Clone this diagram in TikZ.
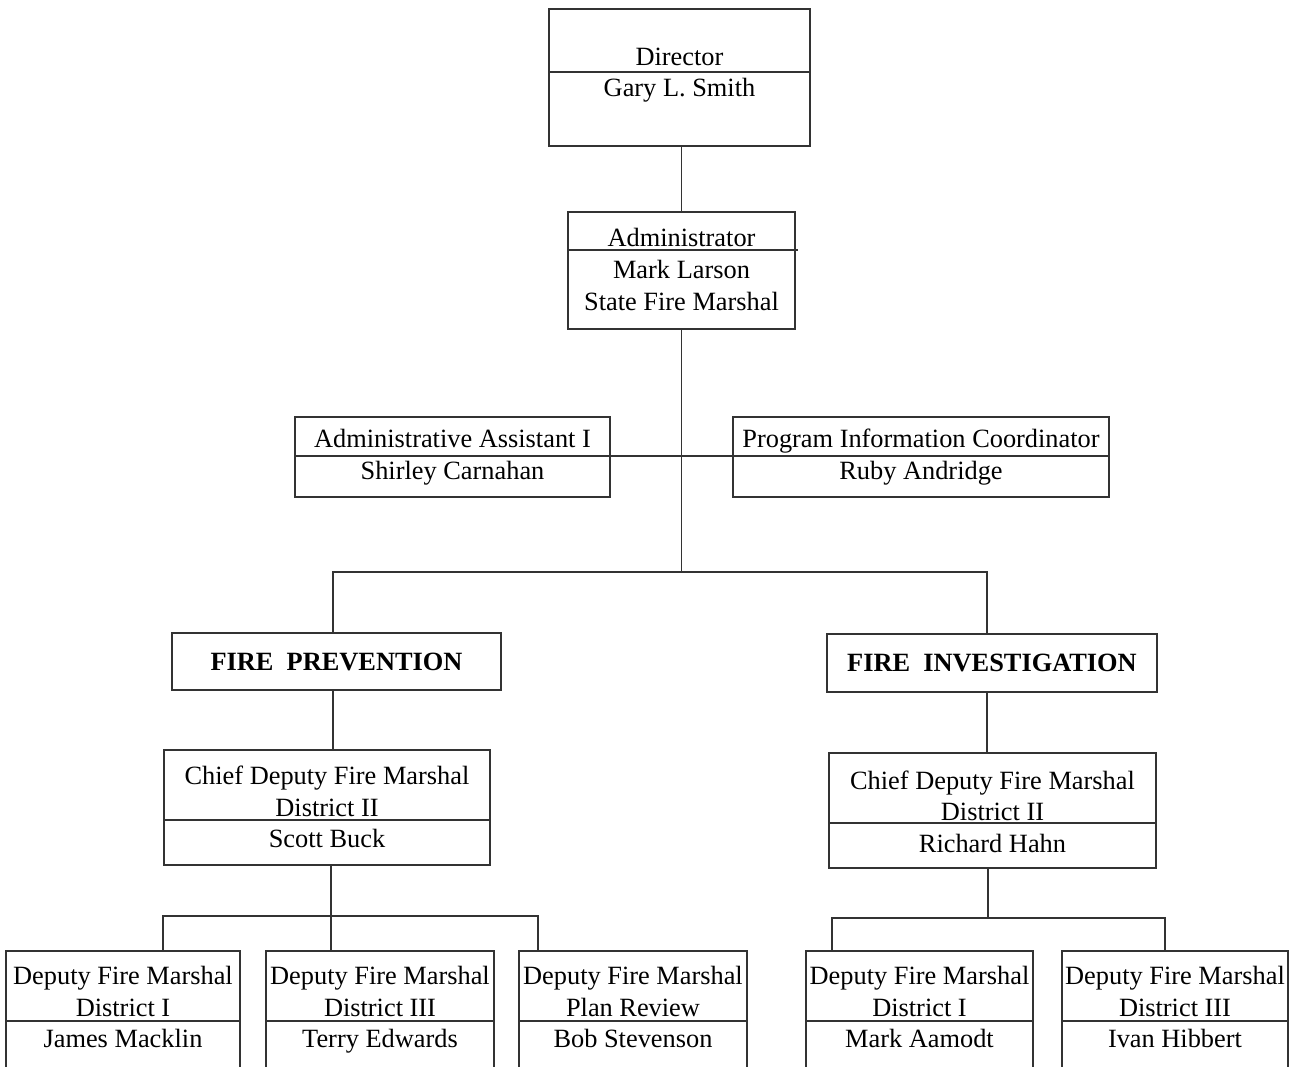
\documentclass[tikz,border=0pt]{standalone}
\usepackage{fontspec}
\setmainfont{Liberation Serif}
\usepackage{tikz}
\usetikzlibrary{positioning}

\begin{document}
\begin{tikzpicture}[
  box/.style={draw=black!80,line width=0.6pt,inner sep=0pt},
  txt/.style={align=center,inner sep=0pt,font=\fontsize{15}{18}\selectfont},
  head/.style={draw=black!80,line width=0.6pt,inner sep=0pt,font=\fontsize{15}{18}\selectfont\bfseries},
  rule/.style={draw=black!80,line width=0.6pt}]
  \useasboundingbox (0,0) rectangle (25.92,-21.32);
  \clip (0,0) rectangle (25.92,-21.32);
  % top of the chart
  \node[box,minimum width=5.22cm,minimum height=2.74cm] (dir) at (13.59,-1.55) {};
  \node[txt] (dirtxt) at (13.59,-1.50) {Director\\Gary L. Smith};
  \node[box,minimum width=4.54cm,minimum height=2.34cm] (adm) at (13.63,-5.41) {};
  \node[txt] (admtxt) at (13.63,-5.39) {Administrator\\Mark Larson\\State Fire Marshal};
  \node[box,minimum width=6.30cm,minimum height=1.60cm] (asst) at (9.05,-9.14) {};
  \node[txt] (assttxt) at (9.05,-9.14) {Administrative Assistant I\\Shirley Carnahan};
  \node[box,minimum width=7.52cm,minimum height=1.60cm] (prog) at (18.42,-9.14) {};
  \node[txt] (progtxt) at (18.42,-9.14) {Program Information Coordinator\\Ruby Andridge};
  % divisions
  \node[head,minimum width=6.58cm,minimum height=1.14cm] (prev) at (6.73,-13.23) {FIRE\ \ PREVENTION};
  \node[head,minimum width=6.60cm,minimum height=1.16cm] (inv) at (19.84,-13.26) {FIRE\ \ INVESTIGATION};
  \node[box,minimum width=6.52cm,minimum height=2.30cm] (chiefP) at (6.54,-16.15) {};
  \node[txt] (chiefPtxt) at (6.54,-16.14) {Chief Deputy Fire Marshal\\District II\\Scott Buck};
  \node[box,minimum width=6.54cm,minimum height=2.30cm] (chiefI) at (19.85,-16.21) {};
  \node[txt] (chiefItxt) at (19.85,-16.23) {Chief Deputy Fire Marshal\\District II\\Richard Hahn};
  % deputies
  \node[box,minimum width=4.68cm,minimum height=2.58cm] (dfmA) at (2.46,-20.31) {};
  \node[txt] (dfmAtxt) at (2.46,-20.14) {Deputy Fire Marshal\\District I\\James Macklin};
  \node[box,minimum width=4.56cm,minimum height=2.58cm] (dfmB) at (7.60,-20.31) {};
  \node[txt] (dfmBtxt) at (7.60,-20.20) {Deputy Fire Marshal\\District III\\Terry Edwards};
  \node[box,minimum width=4.56cm,minimum height=2.58cm] (dfmC) at (12.66,-20.31) {};
  \node[txt] (dfmCtxt) at (12.66,-20.14) {Deputy Fire Marshal\\Plan Review\\Bob Stevenson};
  \node[box,minimum width=4.54cm,minimum height=2.58cm] (dfmD) at (18.39,-20.31) {};
  \node[txt] (dfmDtxt) at (18.39,-20.14) {Deputy Fire Marshal\\District I\\Mark Aamodt};
  \node[box,minimum width=4.52cm,minimum height=2.58cm] (dfmE) at (23.50,-20.31) {};
  \node[txt] (dfmEtxt) at (23.50,-20.14) {Deputy Fire Marshal\\District III\\Ivan Hibbert};
  % split lines inside the boxes
  \draw[rule] (dir.west |- 0,-1.44) -- (dir.east |- 0,-1.44);
  \draw[rule] (adm.west |- 0,-5.00) -- ([xshift=0.04cm]adm.east |- 0,-5.00);
  \draw[rule] (asst.west |- 0,-9.12) -- (asst.east |- 0,-9.12);
  \draw[rule] (prog.west |- 0,-9.12) -- (prog.east |- 0,-9.12);
  \draw[rule] (chiefP.west |- 0,-16.40) -- (chiefP.east |- 0,-16.40);
  \draw[rule] (chiefI.west |- 0,-16.46) -- (chiefI.east |- 0,-16.46);
  \draw[rule] (dfmA.west |- 0,-20.42) -- (dfmA.east |- 0,-20.42);
  \draw[rule] (dfmB.west |- 0,-20.42) -- (dfmB.east |- 0,-20.42);
  \draw[rule] (dfmC.west |- 0,-20.42) -- (dfmC.east |- 0,-20.42);
  \draw[rule] (dfmD.west |- 0,-20.42) -- (dfmD.east |- 0,-20.42);
  \draw[rule] (dfmE.west |- 0,-20.42) -- (dfmE.east |- 0,-20.42);
  % connectors
  \coordinate (busL) at (6.66,-11.44);
  \coordinate (busR) at (19.74,-11.44);
  \coordinate (forkP) at (6.62,-18.32);
  \coordinate (legA) at (3.26,-18.32);
  \coordinate (legC) at (10.76,-18.32);
  \coordinate (forkI) at (19.76,-18.36);
  \coordinate (legD) at (16.64,-18.36);
  \coordinate (legE) at (23.30,-18.36);
  \draw[rule] (adm.north) -- (adm.north |- dir.south);
  \draw[rule] (adm.south) -- (adm.south |- busL);
  \draw[rule] (asst.east |- 0,-9.12) -- (prog.west |- 0,-9.12);
  \draw[rule] (busL |- prev.north) -- (busL) -- (busR) -- (busR |- inv.north);
  \draw[rule] (prev.south -| busL) -- (chiefP.north -| busL);
  \draw[rule] (inv.south -| busR) -- (chiefI.north -| busR);
  \draw[rule] (chiefP.south -| forkP) -- (forkP);
  \draw[rule] (legA |- dfmA.north) -- (legA) -- (legC) -- (legC |- dfmC.north);
  \draw[rule] (forkP) -- (forkP |- dfmB.north);
  \draw[rule] (chiefI.south -| forkI) -- (forkI);
  \draw[rule] (legD |- dfmD.north) -- (legD) -- (legE) -- (legE |- dfmE.north);
\end{tikzpicture}
\end{document}
